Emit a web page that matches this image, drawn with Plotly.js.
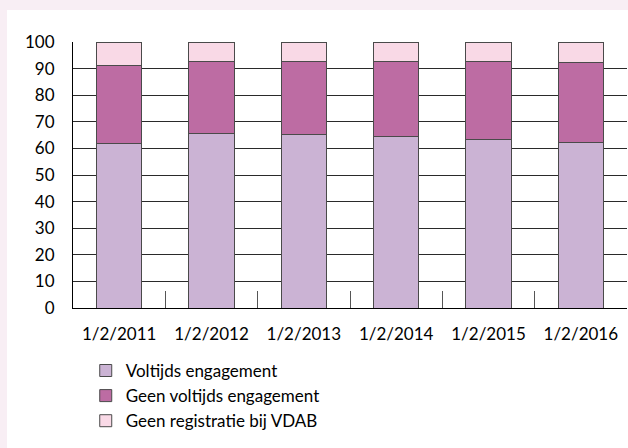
<!DOCTYPE html>
<html><head><meta charset="utf-8">
<script src="https://cdn.plot.ly/plotly-3.0.1.min.js"></script>
<style>
html,body{margin:0;padding:0;background:#f8eef4;width:628px;height:448px;overflow:hidden;}
#chart{position:absolute;left:7px;top:10px;width:621px;height:438px;background:#fff;}
</style></head>
<body><div id="chart"></div>
<script>
var categories = ["1/2/2011","1/2/2012","1/2/2013","1/2/2014","1/2/2015","1/2/2016"];
var voltijds = [62, 65.5, 65.2, 64.3, 63.2, 62.3];
var geenVoltijds = [29, 27.3, 27.4, 28.5, 29.6, 30];
var geenRegistratie = [9, 7.2, 7.4, 7.2, 7.2, 7.7];
var seriesNames = ["Voltijds engagement","Geen voltijds engagement","Geen registratie bij VDAB"];
var colors = ["#cbb3d4","#bd6ca3","#f9d9e6"];
var yTicks = [0,10,20,30,40,50,60,70,80,90,100];

var font = "Lato, sans-serif";
function tr(y,i){
  return {type:"bar", x:categories, y:y, name:seriesNames[i],
    marker:{color:colors[i], line:{color:"#4a4a4a", width:1}}};
}
var data=[tr(voltijds,0),tr(geenVoltijds,1),tr(geenRegistratie,2)];
var layout={
  width:621,height:438,
  margin:{l:66,r:1,t:32,b:140},
  paper_bgcolor:"#ffffff", plot_bgcolor:"#ffffff",
  barmode:"stack", bargap:0.51,
  font:{family:font,size:17,color:"#000"},
  showlegend:true,
  legend:{orientation:"v",traceorder:"normal",x:0.023,y:-0.169,xanchor:"left",yanchor:"top",
    font:{family:font,size:17,color:"#000"},bgcolor:"rgba(0,0,0,0)",tracegroupgap:0},
  xaxis:{type:"category",range:[-0.5,5.5],showgrid:false,zeroline:false,automargin:false,
    showline:true,linecolor:"#000",linewidth:1,
    ticks:"inside",tickson:"boundaries",ticklen:17,tickcolor:"#555",tickwidth:1,
    ticklabelstandoff:11,tickfont:{family:font,size:17,color:"#000"}},
  yaxis:{range:[0,100],tickvals:yTicks,showgrid:true,gridcolor:"#2a2a2a",gridwidth:1,automargin:false,
    zeroline:false,showline:true,linecolor:"#000",linewidth:1,ticks:"",
    ticklabelstandoff:14,tickfont:{family:font,size:17,color:"#000"}}
};
Plotly.newPlot("chart",data,layout,{displayModeBar:false,staticPlot:true});
</script></body></html>
